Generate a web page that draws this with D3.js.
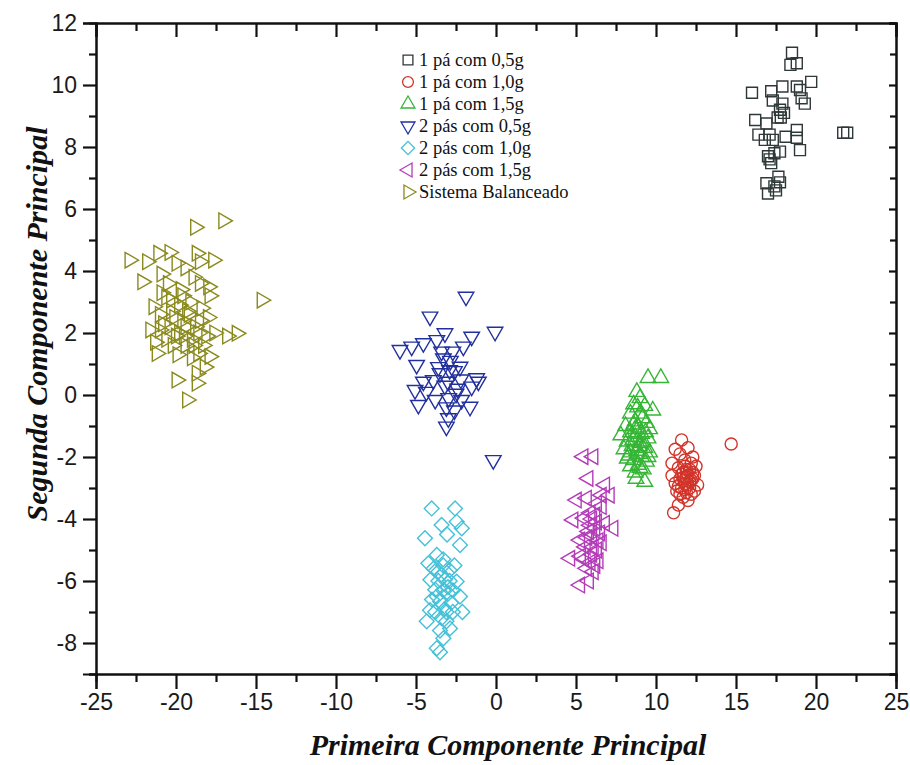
<!DOCTYPE html>
<html>
<head>
<meta charset="utf-8">
<script src="https://cdn.jsdelivr.net/npm/d3@7"></script>
<style>
  body { margin: 0; background: #fff; }
  .axis path, .axis line { stroke: #111; }
  .axis text { font-family: "Liberation Sans", Arial, sans-serif; font-size: 23px; fill: #1a1a1a; }
</style>
</head>
<body>
<script>
// series names (legend order)
var seriesNames = ["1 pá com 0,5g", "1 pá com 1,0g", "1 pá com 1,5g", "2 pás com 0,5g",
                   "2 pás com 1,0g", "2 pás com 1,5g", "Sistema Balanceado"];

// PCA scores [PC1, PC2]
var pa1_05 = [[18.5,11.04],[18.4,10.65],[18.8,10.7],[19.7,10.1],[16.0,9.75],[17.2,9.8],[17.9,9.95],
  [18.8,9.95],[19.0,9.84],[19.1,9.57],[19.3,9.4],[17.3,9.5],[17.9,9.4],[17.75,9.2],[17.8,8.95],
  [17.6,8.95],[16.2,8.87],[16.9,8.76],[16.4,8.4],[17.1,8.4],[18.8,8.55],[18.8,8.3],[18.1,8.33],
  [17.3,8.23],[16.8,8.23],[21.7,8.46],[21.95,8.46],[19.0,7.9],[17.75,7.85],[17.4,7.8],[17.0,7.7],
  [17.2,7.48],[17.65,7.04],[17.75,6.86],[16.9,6.83],[17.4,6.73],[17.0,6.5],[17.5,6.6],[18.0,9.1],[17.1,7.6]];
var pa1_10 = [[11.6,-1.45],[11.2,-1.75],[12.0,-1.7],[11.5,-1.9],[12.3,-2.0],[11.0,-2.2],[11.8,-2.1],
  [12.5,-2.3],[11.4,-2.35],[12.1,-2.4],[11.7,-2.5],[11.0,-2.6],[12.4,-2.6],[11.9,-2.65],[11.5,-2.7],
  [12.2,-2.75],[11.2,-2.85],[11.8,-2.85],[12.6,-2.9],[11.6,-3.0],[12.1,-3.0],[11.3,-3.1],[11.9,-3.15],
  [12.4,-3.1],[11.7,-3.3],[12.0,-3.4],[11.4,-3.55],[11.1,-3.8],[14.7,-1.58],[12.2,-2.2],[11.9,-2.4],
  [11.6,-2.55],[12.0,-2.9],[11.75,-2.75],[12.3,-2.5],[11.4,-2.95],[12.0,-2.6],[11.8,-3.05],
  [11.9,-2.5],[12.1,-2.8],[11.7,-2.65],[12.2,-3.2],[11.8,-2.3],[11.5,-3.2],[12.3,-2.7]];
var pa1_15 = [[9.5,0.55],[10.3,0.55],[8.8,0.1],[9.0,-0.1],[8.6,-0.3],[9.3,-0.35],[9.8,-0.5],[8.4,-0.6],
  [9.0,-0.6],[8.7,-0.85],[9.4,-0.9],[8.1,-1.0],[8.9,-1.05],[9.6,-1.1],[8.4,-1.2],[9.1,-1.25],[7.8,-1.3],
  [8.7,-1.35],[9.5,-1.4],[8.2,-1.5],[9.0,-1.55],[8.5,-1.65],[9.3,-1.7],[8.0,-1.75],[8.8,-1.8],[9.6,-1.85],
  [8.3,-1.95],[9.1,-2.0],[8.6,-2.1],[9.4,-2.15],[8.9,-2.25],[8.4,-2.3],[9.2,-2.4],[8.7,-2.5],[9.3,-2.8],
  [8.85,-0.4],[9.15,-0.75],[8.55,-1.45],[9.0,-1.9],[8.7,-1.1],[9.2,-1.5],[8.4,-1.85],[9.0,-2.35],
  [8.6,-0.95],[9.35,-1.2],[8.2,-2.05],[8.95,-1.65],[9.5,-2.0],[8.75,-2.7]];
var pas2_05 = [[-1.875,3.17],[-4.125,2.53],[-0.06,2.04],[-3.19,1.99],[-1.52,1.88],[-6.0,1.45],[-5.27,1.56],
  [-4.54,1.67],[-3.7,1.77],[-2.04,1.56],[-4.96,0.97],[-3.29,1.18],[-2.85,1.1],[-2.25,0.91],[-3.5,0.7],
  [-2.6,0.77],[-1.21,0.54],[-4.54,0.43],[-3.92,0.48],[-3.0,0.43],[-2.2,0.5],[-1.52,0.27],[-5.06,0.16],
  [-4.35,0.1],[-2.5,0.04],[-1.625,-0.38],[-4.85,-0.32],[-3.8,-0.16],[-2.96,-0.1],[-2.15,-0.16],
  [-2.98,-0.75],[-3.1,-1.02],[-0.17,-2.1],[-1.1,0.43],[-3.4,1.4],[-2.9,0.8],[-3.2,0.3],[-2.7,1.4],
  [-3.6,0.9],[-2.4,0.2],[-3.1,-0.4],[-2.6,-0.5]];
var pas2_10 = [[-4.02,-3.66],[-2.56,-3.66],[-3.4,-4.19],[-2.46,-4.09],[-2.14,-4.3],[-4.44,-4.62],
  [-3.06,-4.5],[-2.25,-4.84],[-3.7,-5.16],[-4.23,-5.43],[-3.3,-5.3],[-3.6,-5.7],[-2.9,-5.65],[-4.1,-5.96],
  [-3.2,-5.96],[-2.46,-6.02],[-3.8,-6.28],[-2.98,-6.4],[-3.5,-6.66],[-2.25,-6.5],[-4.125,-6.94],[-2.7,-7.0],
  [-2.1,-7.0],[-3.4,-7.2],[-4.33,-7.3],[-2.875,-7.53],[-3.29,-7.85],[-3.7,-8.17],[-3.5,-8.3],[-3.3,-5.5],
  [-3.0,-6.2],[-3.6,-6.0],[-2.8,-6.7],[-3.2,-6.9],[-3.8,-7.0],[-3.1,-7.3],[-3.4,-5.8],[-2.9,-6.0],
  [-3.7,-6.5],[-3.3,-6.3],[-2.6,-5.5],[-3.9,-5.6],[-3.1,-7.0],[-3.5,-7.6],[-2.7,-6.3],[-4.0,-6.6]];
var pas2_15 = [[5.46,-1.99],[6.08,-1.99],[5.77,-2.69],[6.81,-2.9],[5.04,-3.39],[5.67,-3.33],[6.6,-3.23],
  [7.1,-3.23],[6.3,-3.5],[4.83,-4.03],[5.5,-3.97],[6.2,-3.87],[6.8,-4.14],[7.33,-4.3],[5.9,-4.2],
  [5.25,-4.68],[6.0,-4.56],[6.6,-4.77],[4.63,-5.27],[5.3,-5.2],[6.0,-5.14],[6.4,-5.35],[5.67,-5.59],
  [6.1,-5.7],[5.25,-6.13],[6.0,-4.0],[6.3,-4.1],[5.8,-4.4],[6.5,-4.45],[6.1,-4.9],[5.6,-4.9],[6.3,-5.0],[5.9,-5.4],
  [5.9,-3.8],[6.2,-4.3],[5.7,-4.6],[6.4,-4.7],[5.5,-5.3],[6.2,-5.5],[5.8,-6.0],[6.6,-3.6]];
var balanceado = [[-17.04,5.62],[-18.8,5.41],[-22.9,4.35],[-21.8,4.3],[-21.1,4.57],[-20.4,4.6],[-18.7,4.57],
  [-17.67,4.35],[-22.1,3.65],[-19.96,4.25],[-20.9,3.9],[-19.4,4.1],[-18.5,4.3],[-17.98,3.49],[-21.4,2.85],
  [-14.64,3.06],[-20.3,3.06],[-19.6,3.2],[-17.9,3.2],[-21.6,2.1],[-16.2,1.99],[-16.8,1.9],[-21.0,2.6],
  [-20.1,2.5],[-19.3,2.7],[-18.5,2.4],[-20.6,1.8],[-19.8,2.0],[-19.0,1.8],[-18.1,1.9],[-21.2,1.34],
  [-19.4,1.6],[-18.6,1.34],[-17.9,1.24],[-19.96,0.48],[-18.7,0.7],[-18.7,0.38],[-18.2,0.9],[-19.3,-0.16],
  [-20.6,3.15],[-18.5,3.6],[-20.5,3.6],[-20.4,2.2],[-19.4,2.2],[-18.6,2.0],[-20.2,1.6],[-21.0,2.1],
  [-19.8,2.9],[-19.2,2.6],[-18.8,2.2],[-19.6,2.4],[-20.0,1.9],[-18.9,1.6],[-19.1,3.0],[-20.3,2.7],
  [-18.4,2.8],[-19.5,1.9],[-18.3,1.6],[-20.8,2.3],[-19.0,1.2],[-18.0,2.5],[-19.7,3.4],[-20.9,3.3],
  [-17.6,2.0],[-18.9,3.8],[-19.9,1.3],[-21.3,1.7]];

var seriesData = [pa1_05, pa1_10, pa1_15, pas2_05, pas2_10, pas2_15, balanceado];
var colors = ["#2f3838", "#d2342a", "#35b535", "#22309e", "#44c0d8", "#b43cb8", "#8a8a1e"];

var xTicks = [-25, -20, -15, -10, -5, 0, 5, 10, 15, 20, 25];
var yTicks = [-8, -6, -4, -2, 0, 2, 4, 6, 8, 10, 12];

var width = 910, height = 765;
var margin = {left: 96, right: 14, top: 23, bottom: 91};
var plotW = width - margin.left - margin.right;
var plotH = height - margin.top - margin.bottom;

var x = d3.scaleLinear().domain([-25, 25]).range([0, plotW]);
var y = d3.scaleLinear().domain([-9, 12]).range([plotH, 0]);

var svg = d3.select("body").append("svg").attr("width", width).attr("height", height);
var g = svg.append("g").attr("transform", "translate(" + margin.left + "," + margin.top + ")");

// marker shapes: square, circle, triangle up/down, diamond, triangle left/right
var shapes = [
  {type: d3.symbolSquare, size: 120, rot: 0},
  {type: d3.symbolCircle, size: 115, rot: 0},
  {type: d3.symbolTriangle, size: 105, rot: 0},
  {type: d3.symbolTriangle, size: 105, rot: 180},
  {type: d3.symbolSquare, size: 110, rot: 45},
  {type: d3.symbolTriangle, size: 105, rot: -90},
  {type: d3.symbolTriangle, size: 105, rot: 90}
];

var xMinor = d3.range(-22.5, 25, 5);
var yMinor = d3.range(-9, 12, 2);
var plain = function(d) { return String(d); };  // plain hyphen minus like the original

function styleAxis(sel) {
  sel.select(".domain").attr("stroke-width", 2);
  sel.selectAll(".tick line").attr("stroke-width", 2.2);
}

// bottom + left with labels, ticks outward
g.append("g").attr("class", "axis").attr("transform", "translate(0," + plotH + ")")
  .call(d3.axisBottom(x).tickValues(xTicks).tickSize(15).tickPadding(5).tickFormat(plain)).call(styleAxis);
g.append("g").attr("class", "axis").attr("transform", "translate(0," + plotH + ")")
  .call(d3.axisBottom(x).tickValues(xMinor).tickSize(8).tickFormat("")).call(styleAxis);
g.append("g").attr("class", "axis")
  .call(d3.axisLeft(y).tickValues(yTicks).tickSize(13).tickPadding(6).tickFormat(plain)).call(styleAxis);
g.append("g").attr("class", "axis")
  .call(d3.axisLeft(y).tickValues(yMinor).tickSize(7).tickFormat("")).call(styleAxis);

// top + right, ticks inward
g.append("g").attr("class", "axis")
  .call(d3.axisTop(x).tickValues(xTicks).tickSize(-14).tickFormat("")).call(styleAxis);
g.append("g").attr("class", "axis")
  .call(d3.axisTop(x).tickValues(xMinor).tickSize(-8).tickFormat("")).call(styleAxis);
g.append("g").attr("class", "axis").attr("transform", "translate(" + plotW + ",0)")
  .call(d3.axisRight(y).tickValues(yTicks).tickSize(-7).tickFormat("")).call(styleAxis);
g.append("g").attr("class", "axis").attr("transform", "translate(" + plotW + ",0)")
  .call(d3.axisRight(y).tickValues(yMinor).tickSize(-6).tickFormat("")).call(styleAxis);

// points
seriesData.forEach(function(data, k) {
  var sym = d3.symbol().type(shapes[k].type).size(shapes[k].size);
  g.append("g")
    .selectAll("path")
    .data(data)
    .enter().append("path")
      .attr("d", sym)
      .attr("transform", function(d) {
        return "translate(" + x(d[0]) + "," + y(d[1]) + ") rotate(" + shapes[k].rot + ")";
      })
      .attr("fill", "none")
      .attr("stroke", colors[k])
      .attr("stroke-width", 1.4);
});

// legend
var legend = svg.append("g").attr("transform", "translate(408,60)");
seriesNames.forEach(function(name, k) {
  var row = legend.append("g").attr("transform", "translate(0," + (k * 22) + ")");
  row.append("path")
    .attr("d", d3.symbol().type(shapes[k].type).size(shapes[k].size * 0.8))
    .attr("transform", "rotate(" + shapes[k].rot + ")")
    .attr("fill", "none").attr("stroke", colors[k]).attr("stroke-width", 1.3);
  row.append("text")
    .attr("x", 11).attr("y", 6)
    .attr("font-family", "'Liberation Serif', 'Times New Roman', serif")
    .attr("font-size", 18.5).attr("fill", "#111")
    .text(name);
});

// axis titles
svg.append("text")
  .attr("x", 508).attr("y", 755)
  .attr("text-anchor", "middle")
  .attr("font-family", "'Liberation Serif', 'Times New Roman', serif")
  .attr("font-size", 30).attr("font-weight", "bold").attr("font-style", "italic")
  .attr("fill", "#111")
  .text("Primeira Componente Principal");
svg.append("text")
  .attr("transform", "translate(47,324) rotate(-90)")
  .attr("text-anchor", "middle")
  .attr("font-family", "'Liberation Serif', 'Times New Roman', serif")
  .attr("font-size", 30).attr("font-weight", "bold").attr("font-style", "italic")
  .attr("fill", "#111")
  .text("Segunda Componente Principal");
</script>
</body>
</html>
